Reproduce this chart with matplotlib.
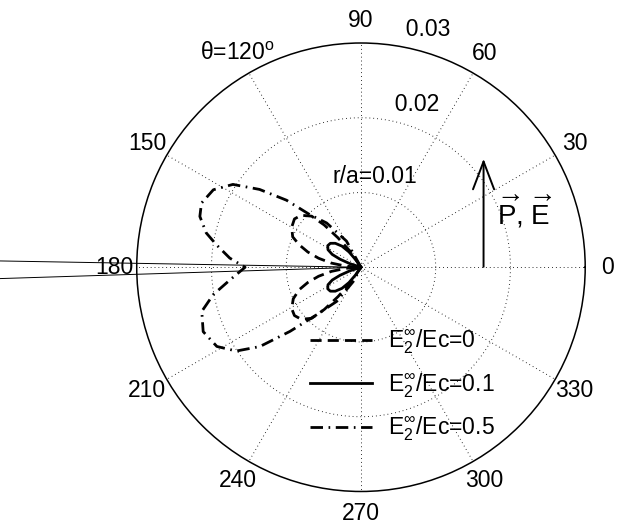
import numpy as np
import matplotlib
matplotlib.use("Agg")
import matplotlib.pyplot as plt

plt.rcParams['font.family'] = 'Liberation Sans'
plt.rcParams['mathtext.fontset'] = 'custom'
plt.rcParams['mathtext.rm'] = 'Liberation Sans'
plt.rcParams['mathtext.it'] = 'Liberation Sans:italic'
plt.rcParams['mathtext.bf'] = 'Liberation Sans:bold'

# curves (theta in degrees, r in r/a)
theta_e0 = [120, 124, 128, 131, 134, 139, 144, 150, 156, 160, 164, 168, 172, 176, 180,
            184, 188, 192, 196, 200, 205, 211, 216, 221, 226, 229, 232, 236, 240]
r_e0 = [0, 0.0025, 0.0050, 0.0075, 0.0095, 0.0106, 0.0110, 0.0107, 0.0100, 0.0088,
        0.0074, 0.0058, 0.0040, 0.0020, 0,
        0.0020, 0.0040, 0.0058, 0.0074, 0.0088, 0.0100, 0.0108, 0.0110, 0.0106,
        0.0095, 0.0075, 0.0050, 0.0025, 0]

theta_e01 = [122, 125, 128, 132, 137, 142, 147, 152, 156, 159, 162, 165,
             195, 198, 201, 204, 208, 213, 218, 223, 228, 232, 235, 238]
r_e01 = [0, 0.0012, 0.0026, 0.0038, 0.0047, 0.0052, 0.0053, 0.0050, 0.0042,
         0.0030, 0.0016, 0,
         0, 0.0016, 0.0030, 0.0042, 0.0050, 0.0053, 0.0052, 0.0047, 0.0038,
         0.0026, 0.0012, 0]

theta_e05 = [115, 119.0, 127.8, 134.2, 138.0, 142.5, 147.1, 152.3, 158.1,
             162.5, 167.5, 171.1, 176.0, 180.0, 185.5, 190.5, 195.5, 202.2,
             208.8, 213.9, 218.1, 222.1, 227.0, 234.6, 241.5, 245]
r_e05 = [0, 0.0040, 0.0075, 0.0098, 0.0134, 0.0171, 0.0204, 0.0223, 0.0230,
         0.0226, 0.0212, 0.0196, 0.0176, 0.0155, 0.0176, 0.0201, 0.0221, 0.0228,
         0.0220, 0.0201, 0.0172, 0.0128, 0.0087, 0.0056, 0.0022, 0]

theta_thin = [179.0, 0, 181.8]
r_thin = [0.052, 0, 0.052]

labels = [r'E$_2^{\infty}$/Ec=0', r'E$_2^{\infty}$/Ec=0.1', r'E$_2^{\infty}$/Ec=0.5']

angle_ticks = list(range(0, 360, 30))
angle_labels = [str(a) for a in angle_ticks]
angle_labels[4] = r'θ=120$^{\rm o}$'
ring_ticks = [0.01, 0.02, 0.03]
ring_labels = ['r/a=0.01', '0.02', '0.03']
rmax = 0.03

fig = plt.figure(figsize=(6.23, 5.27), dpi=100)
ax = fig.add_axes([0.2194, 0.0674, 0.720, 0.851], projection='polar')
ax.set_ylim(0, rmax)
ax.set_xticks([])
ax.set_yticks([])
ax.grid(False)
ax.spines['polar'].set_linewidth(1.1)
ax.spines['polar'].set_color('black')

dot = (0, (0.8, 3.2))
tt = np.linspace(0, 2 * np.pi, 400)
for rr in ring_ticks[:-1]:
    ax.plot(tt, np.full_like(tt, rr), color='black', lw=0.7, ls=dot)
for a in angle_ticks:
    ax.plot([np.radians(a)] * 2, [0, rmax], color='black', lw=0.7, ls=dot)

fs = 16.5
for a, lab in zip(angle_ticks, angle_labels):
    ax.text(np.radians(a), 1.1 * rmax, lab, ha='center', va='center',
            fontsize=fs, clip_on=False)
for rr, lab in zip(ring_ticks[1:], ring_labels[1:]):
    ax.text(np.radians(82), rr + 0.0005, '  ' + lab, ha='left', va='bottom',
            fontsize=fs, clip_on=False)
ax.text(np.radians(109.6), 0.0112, ring_labels[0], ha='left', va='bottom',
        fontsize=fs)

ax.plot(np.radians(theta_thin), r_thin, color='black', lw=0.7, clip_on=False)
l0, = ax.plot(np.radians(theta_e0), r_e0, color='black', lw=2.0,
              ls=(0, (4, 2.2)))
l1, = ax.plot(np.radians(theta_e01), r_e01, color='black', lw=2.0, ls='-')
l2, = ax.plot(np.radians(theta_e05), r_e05, color='black', lw=2.0,
              ls=(0, (4.5, 2, 0.6, 2)))

ax.legend([l0, l1, l2], labels, loc='upper left', frameon=False,
          bbox_to_anchor=(310 / 623, 1 - 328 / 527),
          bbox_transform=fig.transFigure, fontsize=fs, handlelength=2.7,
          handletextpad=0.7, labelspacing=0.65, borderpad=0, borderaxespad=0)

# polarisation / field arrow
ax.annotate('', xy=(np.radians(41.5), 0.0219), xytext=(np.radians(0.2), 0.0164),
            arrowprops=dict(arrowstyle='->,head_length=1.0,head_width=0.38',
                            lw=1.4, color='black', mutation_scale=20,
                            shrinkA=0, shrinkB=0))
ax.text(np.radians(17.4), 0.0191, r'$\overrightarrow{\mathrm{P}}$, $\overrightarrow{\mathrm{E}}$',
        ha='left', va='baseline', fontsize=20)

fig.savefig('out.png', dpi=100)
